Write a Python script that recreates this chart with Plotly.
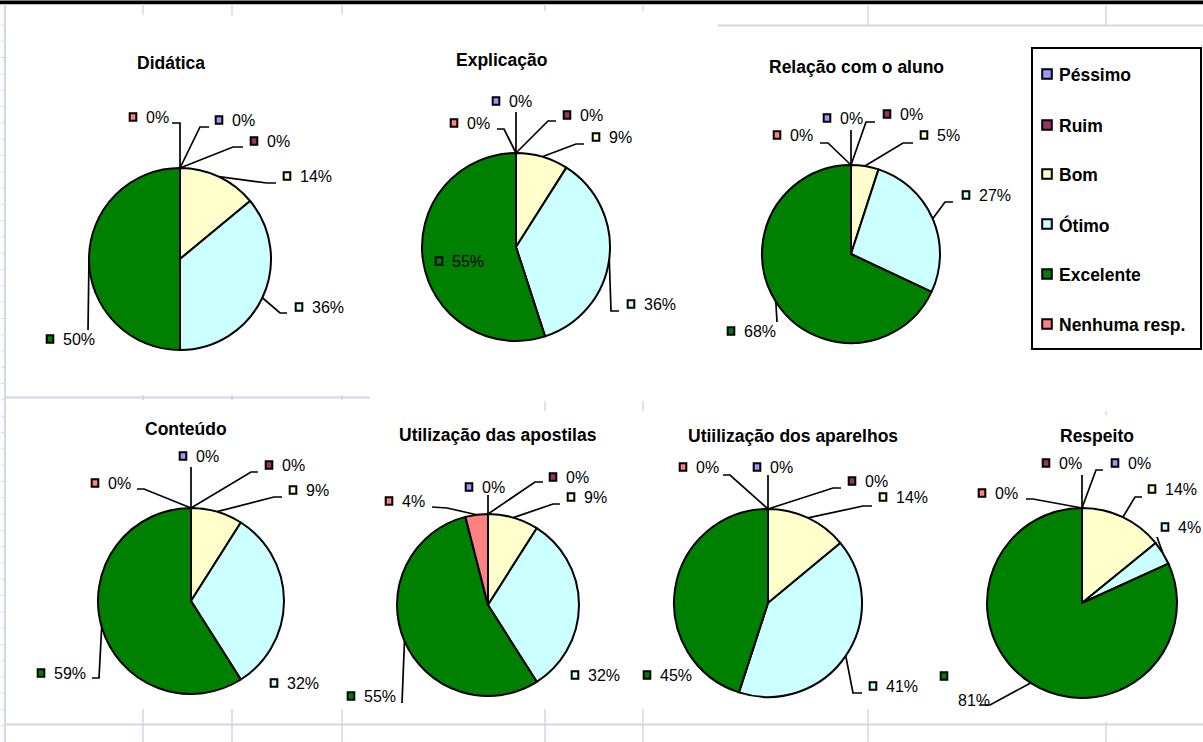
import math
import plotly.graph_objects as go

W, H = 1203, 742

# ---------------- data ----------------
categories = ["Péssimo", "Ruim", "Bom", "Ótimo", "Excelente", "Nenhuma resp."]
titles = ["Didática", "Explicação", "Relação com o aluno", "Conteúdo",
          "Utilização das apostilas", "Utiilização dos aparelhos", "Respeito"]

# percentages shown on each pie (order of categories)
didatica = [0, 0, 14, 36, 50, 0]
explicacao = [0, 0, 9, 36, 55, 0]
relacao = [0, 0, 5, 27, 68, 0]
conteudo = [0, 0, 9, 32, 59, 0]
apostilas = [0, 0, 9, 32, 55, 4]
aparelhos = [0, 0, 14, 41, 45, 0]
respeito = [0, 0, 14, 4, 81, 0]

series = [didatica, explicacao, relacao, conteudo, apostilas, aparelhos, respeito]

# ---------------- styles / layout ----------------
colors = ["#9999FF", "#993366", "#FFFFCC", "#CCFFFF", "#008000", "#FF8080"]
FONT = "Arial, 'Liberation Sans', sans-serif"
GRID = "#d0d7e5"

# pie centre (px), radius (px), title centre (px)
PIES = [
    dict(c=(180, 259), r=91, t=(171, 63)),
    dict(c=(516, 247), r=94, t=(501, 60)),
    dict(c=(851, 254), r=89, t=(856, 67)),
    dict(c=(191, 601), r=93, t=(186, 429)),
    dict(c=(488, 605), r=91, t=(498, 435)),
    dict(c=(768, 603), r=94, t=(793, 436)),
    dict(c=(1082, 603), r=95, t=(1097, 436)),
]

# data-label placement: square centre, leader elbow points (leader ends on slice edge)
LABELS = [
    [dict(sq=(219, 120), via=[(209, 127), (200, 127)]),
     dict(sq=(254, 141), via=[(243, 147), (233, 147)]),
     dict(sq=(287, 176), via=[(276, 183), (267, 183)]),
     dict(sq=(299, 307), via=[(287, 313), (280, 313)]),
     dict(sq=(50, 339), via=[(88, 330)]),
     dict(sq=(133, 117), via=[(172, 123), (180, 123)])],
    [dict(sq=(496, 101), via=[(516, 112)]),
     dict(sq=(567, 115), via=[(556, 121), (548, 121)]),
     dict(sq=(596, 137), via=[(584, 144), (576, 144)]),
     dict(sq=(631, 304), via=[(619, 311), (611, 311)]),
     dict(sq=(439, 261), via=[]),
     dict(sq=(454, 123), via=[(497, 129), (504, 129)])],
    [dict(sq=(827, 118), via=[(851, 130)]),
     dict(sq=(887, 114), via=[(875, 122), (866, 122)]),
     dict(sq=(924, 135), via=[(913, 143), (903, 143)]),
     dict(sq=(966, 195), via=[(953, 202), (945, 202)]),
     dict(sq=(731, 331), via=[(777, 322)]),
     dict(sq=(777, 135), via=[(820, 143), (828, 143)])],
    [dict(sq=(183, 456), via=[(191, 467)]),
     dict(sq=(269, 465), via=[(258, 472), (251, 472)]),
     dict(sq=(293, 490), via=[(282, 497), (274, 497)]),
     dict(sq=(274, 683), via=[]),
     dict(sq=(41, 673), via=[(92, 678), (99, 678)]),
     dict(sq=(95, 483), via=[(137, 489), (144, 489)])],
    [dict(sq=(469, 487), via=[(488, 495)]),
     dict(sq=(553, 477), via=[(543, 482), (535, 482)]),
     dict(sq=(571, 497), via=[(560, 504), (553, 504)]),
     dict(sq=(575, 675), via=[]),
     dict(sq=(351, 696), via=[(402, 703)]),
     dict(sq=(389, 501), via=[(432, 507), (447, 508)])],
    [dict(sq=(757, 467), via=[(768, 475)]),
     dict(sq=(852, 481), via=[(841, 488), (833, 488)]),
     dict(sq=(883, 497), via=[(872, 506), (863, 506)]),
     dict(sq=(873, 686), via=[(862, 693), (853, 693)]),
     dict(sq=(647, 675), via=[]),
     dict(sq=(683, 467), via=[(723, 475), (730, 475)])],
    [dict(sq=(1115, 463), via=[(1103, 470), (1096, 470)]),
     dict(sq=(1046, 463), via=[(1082, 475)]),
     dict(sq=(1152, 489), via=[(1142, 497), (1135, 497)]),
     dict(sq=(1165, 527), via=[(1157, 537)]),
     dict(sq=(944, 676), txt=(957, 700), via=[(980, 705), (990, 705)]),
     dict(sq=(982, 493), via=[(1026, 499), (1033, 499)])],
]

LEGEND_BOX = (1032, 48, 1201, 349)
LEGEND_Y = [74, 125, 174, 224, 274, 324]
LEGEND_SQ_X = 1047
LEGEND_TXT_X = 1057


def mid_angles(vals):
    tot = float(sum(vals))
    cum = 0.0
    out = []
    for v in vals:
        out.append((cum + v / 2.0) / tot * 2 * math.pi)
        cum += v
    return out


fig = go.Figure()
shapes = []
annotations = []

# ---------------- spreadsheet background ----------------
def gline(x0, y0, x1, y1, color=GRID, width=1.5, layer="below"):
    shapes.append(dict(type="line", xref="x", yref="y", x0=x0, y0=y0, x1=x1, y1=y1,
                       line=dict(color=color, width=width), layer=layer))

shapes.append(dict(type="rect", xref="x", yref="y", x0=0, y0=0.5, x1=W, y1=4.2,
                   fillcolor="#000000", line=dict(width=0), layer="below"))
for x in [143, 232, 342]:
    gline(x, 4, x, 15)
    gline(x, 395, x, 400)
    gline(x, 709, x, H)
for x in [545, 643]:
    gline(x, 4, x, 11)
    gline(x, 401, x, 411)
    gline(x, 709, x, H)
for x in [868, 1106]:
    gline(x, 4, x, 25)
gline(868, 709, 868, H)
gline(1106, 722, 1106, H)
gline(1106, 411, 1106, 415)
gline(718, 25.5, W, 25.5, width=2)
gline(5, 4, 5, H, width=2)
gline(5, 397.5, 370, 397.5, width=2)
gline(5, 724.5, W, 724.5, width=2)
y = 25
while y < H:
    gline(1, y, 5, y, width=1)
    y += 16.3

# ---------------- pies ----------------
lx, ly = [], []
for i, (vals, p, labs, title) in enumerate(zip(series, PIES, LABELS, titles)):
    cx, cy = p["c"]
    r = p["r"]
    fig.add_trace(go.Pie(
        labels=categories, values=vals, sort=False, direction="clockwise", rotation=0,
        marker=dict(colors=colors, line=dict(color="#000000", width=2)),
        textinfo="none", hoverinfo="label+value", showlegend=False,
        domain=dict(x=[(cx - r) / W, (cx + r) / W], y=[1 - (cy + r) / H, 1 - (cy - r) / H]),
        name=title,
    ))
    annotations.append(dict(x=p["t"][0], y=p["t"][1], xref="x", yref="y", text="<b>%s</b>" % title,
                            showarrow=False, xanchor="center", yanchor="middle",
                            font=dict(family=FONT, size=17.5, color="#000000")))
    angs = mid_angles(vals)
    for k, (v, a, lab) in enumerate(zip(vals, angs, labs)):
        sx, sy = lab["sq"]
        shapes.append(dict(type="rect", xref="x", yref="y", x0=sx - 3.3, x1=sx + 3.3,
                           y0=sy - 3.8, y1=sy + 3.8, fillcolor=colors[k],
                           line=dict(color="#000000", width=2), layer="above"))
        tx, ty = lab.get("txt", (sx + 11.5, sy))
        annotations.append(dict(x=tx, y=ty, xref="x", yref="y", text="%d%%" % v,
                                showarrow=False, xanchor="left", yanchor="middle", borderpad=0,
                                font=dict(family=FONT, size=16, color="#000000")))
        if lab["via"]:
            pts = list(lab["via"]) + [(cx + r * math.sin(a), cy - r * math.cos(a))]
            for (px, py) in pts:
                lx.append(px)
                ly.append(py)
            lx.append(None)
            ly.append(None)

fig.add_trace(go.Scatter(x=lx, y=ly, mode="lines", line=dict(color="#000000", width=1.7),
                         hoverinfo="skip", showlegend=False))

# ---------------- legend ----------------
bx0, by0, bx1, by1 = LEGEND_BOX
shapes.append(dict(type="rect", xref="x", yref="y", x0=bx0, y0=by0, x1=bx1, y1=by1,
                   fillcolor="#FFFFFF", line=dict(color="#000000", width=2), layer="above"))
for cat, col, yy in zip(categories, colors, LEGEND_Y):
    shapes.append(dict(type="rect", xref="x", yref="y", x0=LEGEND_SQ_X - 4.8, x1=LEGEND_SQ_X + 4.8,
                       y0=yy - 4.8, y1=yy + 4.8, fillcolor=col,
                       line=dict(color="#000000", width=2), layer="above"))
    annotations.append(dict(x=LEGEND_TXT_X, y=yy + 1, xref="x", yref="y", text="<b>%s</b>" % cat,
                            showarrow=False, xanchor="left", yanchor="middle",
                            font=dict(family=FONT, size=17.5, color="#000000")))

fig.update_layout(
    width=W, height=H, margin=dict(l=0, r=0, t=0, b=0),
    paper_bgcolor="#FFFFFF", plot_bgcolor="#FFFFFF",
    xaxis=dict(range=[0, W], visible=False, domain=[0, 1], fixedrange=True),
    yaxis=dict(range=[H, 0], visible=False, domain=[0, 1], fixedrange=True),
    shapes=shapes, annotations=annotations, showlegend=False,
    font=dict(family=FONT),
)

fig.write_html("out.html")
